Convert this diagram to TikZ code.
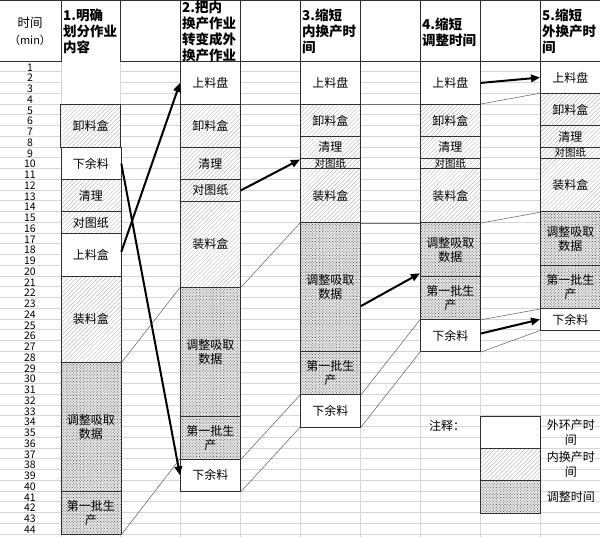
\documentclass[tikz,border=0pt]{standalone}
\usepackage{fontspec}
\setmainfont{Noto Sans CJK SC}
\usetikzlibrary{patterns.meta,arrows.meta}
\definecolor{gridc}{HTML}{D6D6D6}
\definecolor{boxc}{HTML}{303030}
\definecolor{linkc}{HTML}{707070}
\def\rh{10.75}
\newcommand\blk[6]{%
  \pgfmathsetmacro\ytop{61+(#3-1)*\rh}%
  \pgfmathsetmacro\hh{(#4-#3+1)*\rh}%
  \node[#5, minimum height=\hh pt, anchor=north west] (#1) at (#2,\ytop) {#6};}
\tikzset{
  blkbase/.style={minimum width=60pt, inner sep=0pt, align=center, font=\fontsize{12}{14}\selectfont, text=black},
  outerbox/.style={blkbase, draw=boxc, line width=0.8pt, fill=white},
  innerbox/.style={blkbase, draw=boxc, line width=0.8pt, preaction={fill=white}, pattern={Lines[angle=45,distance=3pt,line width=0.45pt]}, pattern color=gray!55},
  adjbox/.style={blkbase, draw=boxc, line width=0.8pt, preaction={fill=gray!18}, pattern={Dots[angle=45,distance=2pt,radius=0.55pt]}, pattern color=gray!70!black},
  blankbox/.style={blkbase, fill=white},
  small/.style={font=\fontsize{10.5}{10.5}\selectfont},
  link/.style={draw=linkc, line width=0.6pt},
  move/.style={draw=black, line width=2pt, -{Triangle[length=9pt,width=7.5pt]}},
  hdr/.style={font=\bfseries\fontsize{13.5}{16}\selectfont, align=left, anchor=west, inner sep=0pt},
  num/.style={font=\fontsize{10.5}{10.5}\selectfont, inner sep=0pt},
  lab/.style={font=\fontsize{12}{15}\selectfont, align=center, inner sep=0pt},
}
\begin{document}
\begin{tikzpicture}[x=1pt,y=-1pt]
\useasboundingbox (0,0) rectangle (600,537);
% grid
\foreach \r in {0,...,44} \draw[gridc, line width=0.6pt] (0,{61+\r*\rh}) -- (600,{61+\r*\rh});
\foreach \x in {61,120,180,240,300,360,420,480,540} \draw[gridc, line width=0.6pt] (\x,61) -- (\x,537);
% header
\draw[boxc, line width=0.8pt] (0,0.4) -- (600,0.4) (0,61) -- (600,61);
\foreach \x in {61,120,180,240,300,360,420,480,540} \draw[boxc, line width=0.8pt] (\x,0) -- (\x,61);
\node[lab, font=\fontsize{12.5}{17}\selectfont] (h0) at (30,31) {时间\\\fontsize{11}{17}\selectfont（min）};
\node[hdr] (h1) at (63,31) {1.明确\\划分作业\\内容};
\node[hdr] (h2) at (182,31) {2.把内\\换产作业\\转变成外\\换产作业};
\node[hdr] (h3) at (302,31) {3.缩短\\内换产时\\间};
\node[hdr] (h4) at (422,32) {4.缩短\\调整时间};
\node[hdr] (h5) at (542,31) {5.缩短\\外换产时\\间};
% row numbers
\foreach \r in {1,...,44} \node[num] (n\r) at (30,{61+(\r-0.5)*\rh+1}) {\r};
% column 1
\blk{c1e}{61.5}{1}{4}{blankbox, minimum width=58pt}{}
\blk{c1b}{60.5}{5}{8}{innerbox}{卸料盒}
\blk{c1x}{60.5}{9}{11}{outerbox}{下余料}
\blk{c1c}{60.5}{12}{14}{innerbox}{清理}
\blk{c1d}{60.5}{15}{16}{innerbox}{对图纸}
\blk{c1s}{60.5}{17}{20}{outerbox}{上料盒}
\blk{c1z}{60.5}{21}{28}{innerbox}{装料盒}
\blk{c1t}{60.5}{29}{40}{adjbox}{调整吸取\\数据}
\blk{c1p}{60.5}{41}{44}{adjbox}{第一批生\\产}
% column 2
\blk{c2a}{180}{1}{4}{outerbox}{上料盘}
\blk{c2b}{180}{5}{8}{innerbox}{卸料盒}
\blk{c2c}{180}{9}{11}{innerbox}{清理}
\blk{c2d}{180}{12}{13}{innerbox}{对图纸}
\blk{c2z}{180}{14}{21}{innerbox}{装料盒}
\blk{c2t}{180}{22}{33}{adjbox}{调整吸取\\数据}
\blk{c2p}{180}{34}{37}{adjbox}{第一批生\\产}
\blk{c2x}{180}{38}{40}{outerbox}{下余料}
% column 3
\blk{c3a}{300}{1}{4}{outerbox}{上料盘}
\blk{c3b}{300}{5}{7}{innerbox}{卸料盒}
\blk{c3c}{300}{8}{9}{innerbox}{清理}
\blk{c3d}{300}{10}{10}{innerbox, small}{对图纸}
\blk{c3z}{300}{11}{15}{innerbox}{装料盒}
\blk{c3t}{300}{16}{27}{adjbox}{调整吸取\\数据}
\blk{c3p}{300}{28}{31}{adjbox}{第一批生\\产}
\blk{c3x}{300}{32}{34}{outerbox}{下余料}
% column 4
\blk{c4a}{420}{1}{4}{outerbox}{上料盘}
\blk{c4b}{420}{5}{7}{innerbox}{卸料盒}
\blk{c4c}{420}{8}{9}{innerbox}{清理}
\blk{c4d}{420}{10}{10}{innerbox, small}{对图纸}
\blk{c4z}{420}{11}{15}{innerbox}{装料盒}
\blk{c4t}{420}{16}{20}{adjbox}{调整吸取\\数据}
\blk{c4p}{420}{21}{24}{adjbox}{第一批生\\产}
\blk{c4x}{420}{25}{27}{outerbox}{下余料}
% column 5
\blk{c5a}{540}{1}{3}{outerbox}{上料盘}
\blk{c5b}{540}{4}{6}{innerbox}{卸料盒}
\blk{c5c}{540}{7}{8}{innerbox}{清理}
\blk{c5d}{540}{9}{9}{innerbox, small}{对图纸}
\blk{c5z}{540}{10}{14}{innerbox}{装料盒}
\blk{c5t}{540}{15}{19}{adjbox}{调整吸取\\数据}
\blk{c5p}{540}{20}{23}{adjbox}{第一批生\\产}
\blk{c5x}{540}{24}{25}{outerbox}{下余料}
% thin link lines
\draw[link] (c1b.north east) -- (c2b.north west);
\draw[link] (c2b.north east) -- (c3b.north west);
\draw[link] (c3b.north east) -- (c4b.north west);
\draw[link] (c4b.north east) -- (c5b.north west);
\draw[link] (c1z.south east) -- (c2z.south west);
\draw[link] (c1p.south east) -- (c2x.north west);
\draw[link] (c2z.south east) -- (c3z.south west);
\draw[link] (c2p.south east) -- (c3p.south west);
\draw[link] (c2x.south east) -- (c3x.south west);
\draw[link] (c3z.south east) -- (c4z.south west);
\draw[link] (c3p.south east) -- (c4p.south west);
\draw[link] (c3x.south east) -- (c4x.south west);
\draw[link] (c4z.south east) -- (c5z.south west);
\draw[link] (c4p.south east) -- (c5p.south west);
\draw[link] (c4x.south east) -- (c5x.south west);
% thick arrows
\draw[move] ([yshift=3pt]c1s.east) -- (c2a.west);
\draw[move] (c1x.east) -- (c2x.west);
\draw[move] (c2d.east) -- ([yshift=4pt]c3d.west);
\draw[move] ([yshift=-19pt]c3t.east) -- ([yshift=3.5pt]c4t.south west);
\draw[move] (c4a.east) -- (c5a.west);
\draw[move] ([yshift=2pt]c4x.east) -- (c5x.west);
% legend
\node[lab] (leg) at (447,426) {注释：};
\blk{lgo}{480}{34}{36}{outerbox}{}
\blk{lgi}{480}{37}{39}{innerbox}{}
\blk{lga}{480}{40}{42}{adjbox}{}
\node[lab] (lgot) at ([xshift=30pt]lgo.east) {外环产时\\间};
\node[lab] (lgit) at ([xshift=30pt]lgi.east) {内换产时\\间};
\node[lab] (lgat) at ([xshift=30pt]lga.east) {调整时间};
\end{tikzpicture}
\end{document}
